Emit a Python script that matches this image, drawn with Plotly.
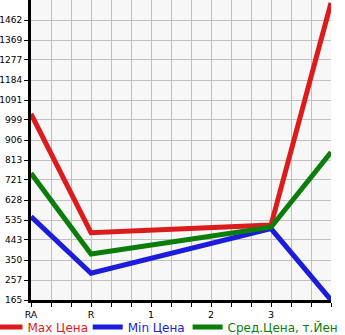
import plotly.graph_objects as go

categories = ["RA", "R", "1", "2", "3", ""]
x_idx = [0, 1, 4, 5]
max_price = [1027, 477, 512, 1541]
min_price = [551, 289, 496, 165]
avg_price = [752, 378, 502, 849]
y_ticks = [165, 257, 350, 443, 535, 628, 721, 813, 906, 999, 1091, 1184, 1277, 1369, 1462]

series = [
    ("Max Цена", max_price, "rgb(220,28,28)", "legend"),
    ("Min Цена", min_price, "rgb(28,28,220)", "legend2"),
    ("Сред.Цена, т.Йен", avg_price, "rgb(10,125,10)", "legend3"),
]

fig = go.Figure()
for name, vals, col, lg in series:
    fig.add_trace(go.Scatter(
        x=x_idx, y=vals, mode="lines", name=f"<span style='color:{col}'>{name}</span>",
        line=dict(color=col, width=5), cliponaxis=False, legend=lg,
    ))

leg_common = dict(orientation="h", xanchor="left", y=-0.09, yanchor="middle",
                  font=dict(size=12), itemwidth=30, bgcolor="rgba(0,0,0,0)")

fig.update_layout(
    width=345, height=335,
    margin=dict(l=31, r=14, t=0, b=35, autoexpand=False),
    paper_bgcolor="white", plot_bgcolor="#f7f7f7",
    font=dict(family="DejaVu Sans", size=9.5, color="black"),
    showlegend=True,
    legend=dict(x=-0.145, **leg_common),
    legend2=dict(x=0.189, **leg_common),
    legend3=dict(x=0.522, **leg_common),
)
fig.update_xaxes(
    range=[0, 5], tickvals=list(range(6)), ticktext=categories,
    showgrid=True, gridcolor="#c0c0c0", gridwidth=1,
    minor=dict(dtick=1/3, tick0=0, showgrid=True, gridcolor="#c0c0c0", ticks="outside", ticklen=4, tickcolor="black"),
    ticks="outside", ticklen=4, tickcolor="black",
    showline=True, linecolor="black", linewidth=3, zeroline=False,
)
fig.update_yaxes(
    range=[165, 165 + 15 * (1462 - 165) / 14],
    tickvals=y_ticks, ticktext=[str(v) for v in y_ticks],
    tickfont=dict(size=9),
    showgrid=True, gridcolor="#c0c0c0", gridwidth=1,
    ticks="outside", ticklen=4, tickcolor="black", ticklabelstandoff=0,
    showline=True, linecolor="black", linewidth=3, zeroline=False,
)
fig.write_html("out.html")
